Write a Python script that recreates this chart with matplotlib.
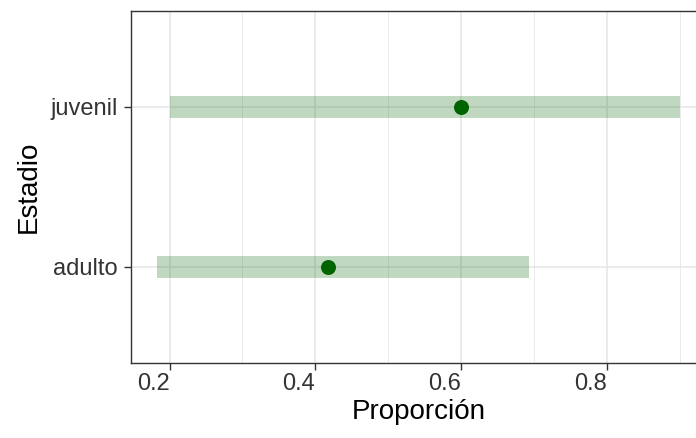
import matplotlib
matplotlib.use("Agg")
import matplotlib.pyplot as plt
import numpy as np

plt.rcParams['font.family'] = ['Liberation Sans', 'DejaVu Sans']

# estimates
estadios = ["adulto", "juvenil"]
proporcion = [0.417, 0.60]
limite_inf = [0.183, 0.20]
limite_sup = [0.693, 0.90]

verde = "darkgreen"

fig = plt.figure(figsize=(6.96, 4.38), dpi=100)
# panel is cut off on the right in the reference
ax = fig.add_axes([131 / 696, 1 - 362.7 / 438, 575 / 696, 351.7 / 438])

ypos = np.arange(1, len(estadios) + 1)

ax.hlines(ypos, limite_inf, limite_sup, colors=verde, alpha=0.25,
          linewidth=15.8, capstyle="butt", zorder=2)
ax.plot(proporcion, ypos, "o", color=verde, markersize=10.8,
        markeredgewidth=0, zorder=3)

# ggplot-like 5% expansion
lo, hi = min(limite_inf), max(limite_sup)
pad = 0.05 * (hi - lo)
ax.set_xlim(lo - pad, hi + pad)
ax.set_ylim(0.4, len(estadios) + 0.6)

ax.set_xticks([0.2, 0.4, 0.6, 0.8])
ax.set_xticklabels(["0.2", "0.4", "0.6", "0.8"])
ax.set_xticks([0.3, 0.5, 0.7, 0.9], minor=True)
ax.set_yticks(ypos)
ax.set_yticklabels(estadios)

ax.grid(True, which="major", color="#e6e6e6", linewidth=1.1, zorder=0)
ax.grid(True, which="minor", axis="x", color="#ebebeb", linewidth=0.7, zorder=0)
ax.set_axisbelow(True)

for s in ax.spines.values():
    s.set_color("#333333")
    s.set_linewidth(1.0)

ax.tick_params(axis="both", which="major", length=5, width=1.0, color="#333333",
               labelsize=17, labelcolor="#333333")
ax.tick_params(axis="x", which="major", pad=2.5)
ax.tick_params(axis="y", which="major", pad=4.5)
ax.tick_params(which="minor", length=0)
for lbl in ax.get_xticklabels():
    lbl.set_ha("right")

ax.set_xlabel("Proporción", fontsize=20, color="black", labelpad=3)
ax.set_ylabel("Estadio", fontsize=20, color="black", labelpad=6)

fig.savefig("out.png", dpi=100)
